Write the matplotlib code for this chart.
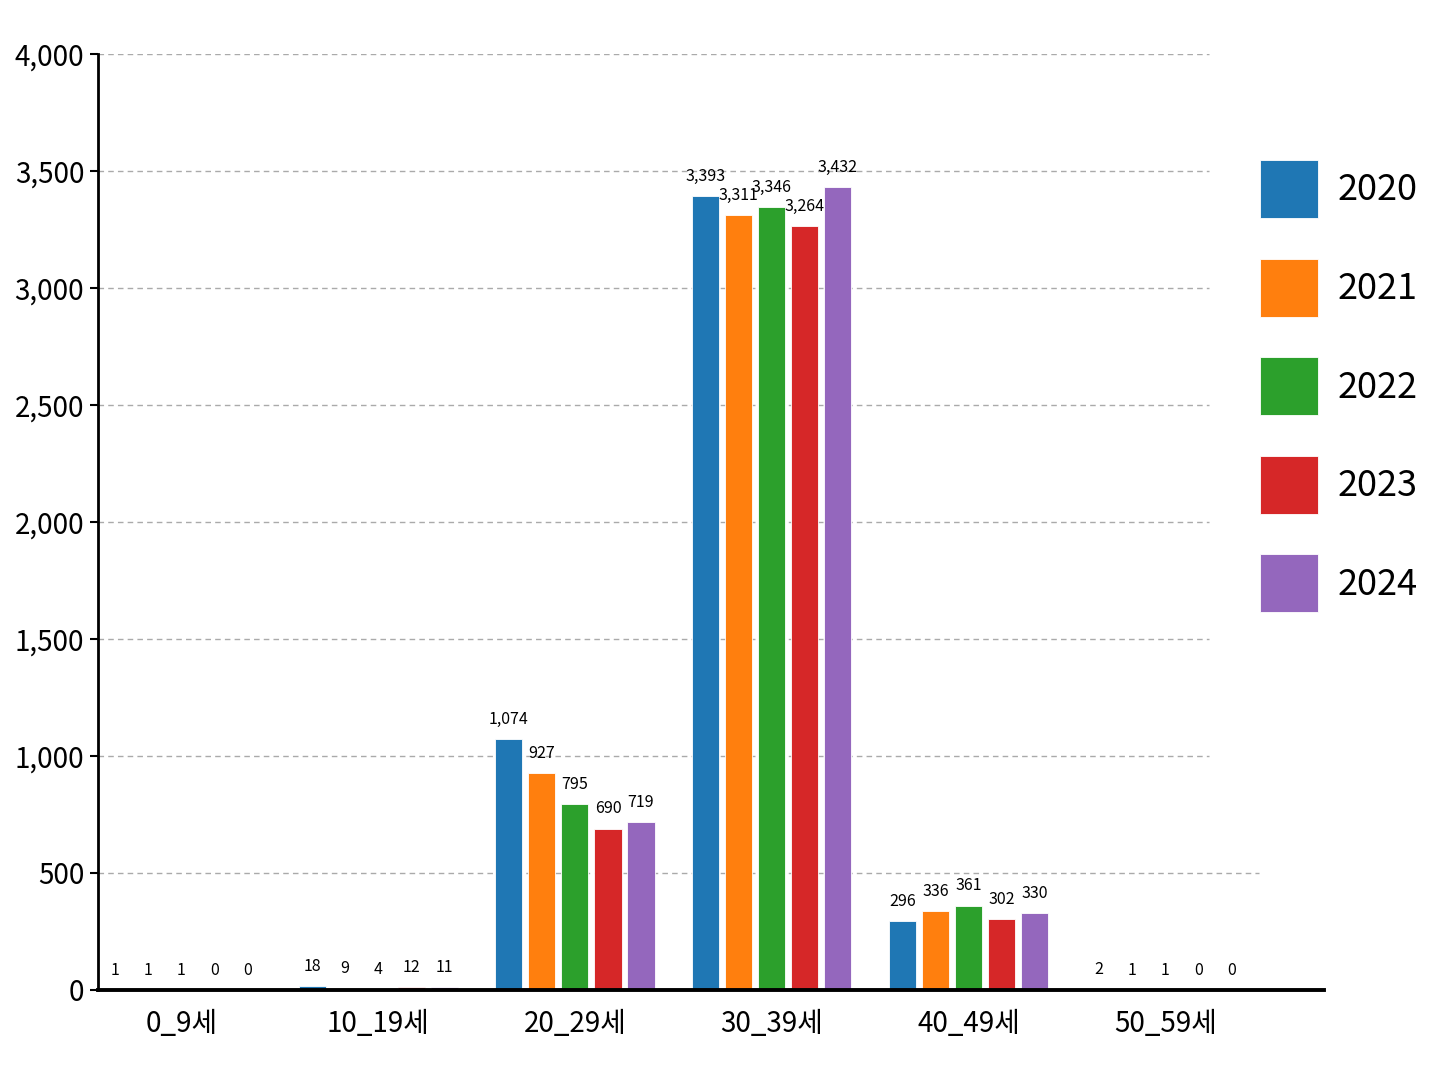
import numpy as np
import matplotlib.pyplot as plt
from matplotlib.ticker import FuncFormatter

age_groups = ["0_9세", "10_19세", "20_29세", "30_39세", "40_49세", "50_59세"]
years = ["2020", "2021", "2022", "2023", "2024"]
v2020 = [1, 18, 1074, 3393, 296, 2]
v2021 = [1, 9, 927, 3311, 336, 1]
v2022 = [1, 4, 795, 3346, 361, 1]
v2023 = [0, 12, 690, 3264, 302, 0]
v2024 = [0, 11, 719, 3432, 330, 0]
series = [v2020, v2021, v2022, v2023, v2024]
colors = ["#1f77b4", "#ff7f0e", "#2ca02c", "#d62728", "#9467bd"]

plt.rcParams["font.family"] = ["Noto Sans CJK KR", "DejaVu Sans"]

fig = plt.figure(figsize=(14.48, 10.86), dpi=100)
ax = fig.add_axes([0.0677, 0.0884, 0.847, 0.862])

x = np.arange(len(age_groups))
step = 0.168
width = 0.138
for i, (yr, vals, c) in enumerate(zip(years, series, colors)):
    pos = x + (i - 2) * step
    bars = ax.bar(pos, vals, width, color=c, label=yr, edgecolor="white", linewidth=0.6)
    ax.bar_label(bars, labels=[f"{v:,}" for v in vals], padding=8, fontsize=11.5)

ax.set_xlim(-0.424, 5.81)
ax.set_ylim(0, 4000)
ax.set_yticks(np.arange(0, 4001, 500))
ax.yaxis.set_major_formatter(FuncFormatter(lambda v, p: f"{int(v):,}"))
ax.set_xticks(x)
ax.set_xticklabels(age_groups)
ax.tick_params(axis="x", length=0, labelsize=20, pad=14)
ax.tick_params(axis="y", labelsize=20, length=6, width=1.5, pad=4)

# dashed grid lines stopping short of the legend
yaxis_tr = ax.get_yaxis_transform()
for yv in np.arange(500, 4001, 500):
    xmax = 0.947 if yv == 500 else 0.906
    ax.plot([0, xmax], [yv, yv], transform=yaxis_tr, color="#aaaaaa",
            linestyle=(0, (4, 3)), linewidth=1, zorder=0)

for s in ["top", "right"]:
    ax.spines[s].set_visible(False)
ax.spines["left"].set_linewidth(2)
ax.spines["bottom"].set_linewidth(2.8)

fig.legend(loc="upper left", bbox_to_anchor=(1260 / 1448, 1 - 160 / 1086),
           frameon=False, fontsize=26, handlelength=1.6, handleheight=2.1,
           labelspacing=1.12, handletextpad=0.55, borderpad=0, borderaxespad=0)

fig.savefig("out.png", dpi=100)
